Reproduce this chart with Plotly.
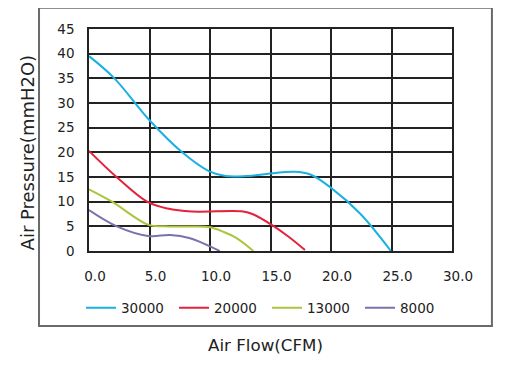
import plotly.graph_objects as go

# ---- data ----
series_names = ["30000", "20000", "13000", "8000"]
series_colors = ["#1bb0e2", "#e4223c", "#a9c63c", "#7a72aa"]

x_30000 = [0, 2.1, 5.0, 7.7, 9.9, 11.3, 13.0, 15.0, 17.0, 18.3, 20.0, 22.4, 24.95]
y_30000 = [39.5, 35.0, 26.5, 20.0, 16.2, 15.2, 15.2, 15.7, 16.05, 15.5, 12.8, 7.6, 0]

x_20000 = [0, 2.3, 4.8, 6.5, 8.5, 12.6, 13.5, 15.1, 16.5, 17.85]
y_20000 = [20.3, 14.95, 10.0, 8.6, 8.0, 8.05, 7.5, 5.3, 2.9, 0.2]

x_13000 = [0, 1.9, 4.9, 6.2, 8.5, 10.0, 11.1, 12.2, 13.58]
y_13000 = [12.5, 10.0, 5.3, 5.0, 4.95, 4.8, 3.9, 2.6, 0]

x_8000 = [0, 2.3, 4.9, 6.7, 8.35, 9.45, 10.8]
y_8000 = [8.3, 5.0, 3.05, 3.24, 2.6, 1.55, 0]

x_ticks = [0, 5, 10, 15, 20, 25, 30]
x_tick_labels = ["0.0", "5.0", "10.0", "15.0", "20.0", "25.0", "30.0"]
y_ticks = [0, 5, 10, 15, 20, 25, 30, 35, 40, 45]

xs = [x_30000, x_20000, x_13000, x_8000]
ys = [y_30000, y_20000, y_13000, y_8000]

FONT = "DejaVu Sans"
TXT = "#222222"
W, H = 502, 364  # page body has an 8px margin

fig = go.Figure()
for name, color, x, y in zip(series_names, series_colors, xs, ys):
    fig.add_trace(go.Scatter(
        x=x, y=y, name=name, mode="lines",
        line=dict(color=color, width=2, shape="spline", smoothing=1.0),
    ))

fig.update_layout(
    width=W, height=H,
    margin=dict(l=81, r=58, t=21, b=121, autoexpand=False),
    paper_bgcolor="white", plot_bgcolor="white",
    font=dict(family=FONT, size=13.5, color=TXT),
    showlegend=True,
    legend=dict(
        orientation="h", xref="paper", yref="paper",
        x=-0.022, xanchor="left", y=-0.257, yanchor="middle",
        font=dict(family=FONT, size=13.5, color=TXT),
        itemwidth=30, entrywidth=48, tracegroupgap=0,
        bgcolor="rgba(0,0,0,0)",
    ),
    xaxis=dict(
        range=[0, 30], tickvals=x_ticks, ticktext=x_tick_labels,
        showgrid=True, gridcolor="#222222", gridwidth=1.5,
        showline=True, linecolor="#222222", linewidth=1.5, mirror=True,
        zeroline=False, ticks="", ticklabelstandoff=12, ticklabelshift=6,
        tickfont=dict(family=FONT, size=13.5, color=TXT), automargin=False,
    ),
    yaxis=dict(
        range=[0, 45], tickvals=y_ticks,
        showgrid=True, gridcolor="#222222", gridwidth=1.5,
        showline=True, linecolor="#222222", linewidth=1.5, mirror=True,
        zeroline=False, ticks="", ticklabelstandoff=10,
        tickfont=dict(family=FONT, size=13.5, color=TXT), automargin=False,
    ),
    shapes=[dict(
        type="rect", xref="paper", yref="paper",
        x0=-0.1377, x1=1.110, y0=-0.338, y1=1.096,
        line=dict(color="#6a6a6a", width=2), fillcolor="rgba(0,0,0,0)", layer="below",
    )],
    annotations=[
        dict(
            text="Air Pressure(mmH2O)", textangle=-90, xref="paper", yref="paper",
            x=(27 - 89) / 363, y=0.444, xanchor="center", yanchor="middle", showarrow=False,
            font=dict(family=FONT, size=18, color=TXT),
        ),
        dict(
            text="Air Flow(CFM)", xref="paper", yref="paper",
            x=(265 - 89) / 363, y=(251 - 345) / 221.7, xanchor="center", yanchor="middle",
            showarrow=False, font=dict(family=FONT, size=16.7, color=TXT),
        ),
    ],
)

fig.write_html("out.html")
